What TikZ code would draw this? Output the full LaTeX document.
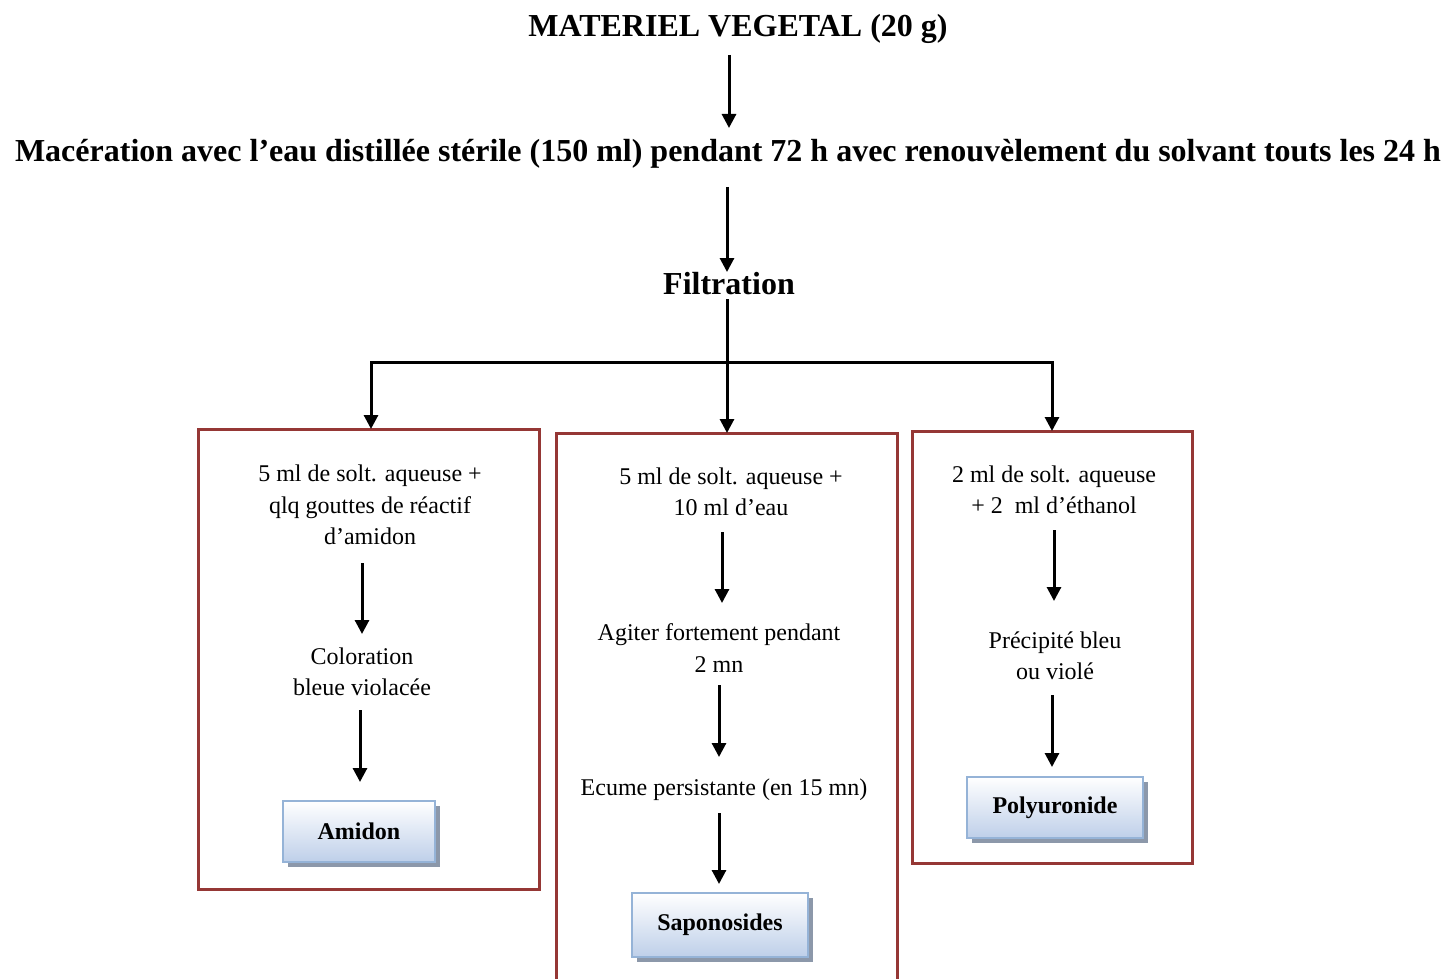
\documentclass[tikz,border=0pt]{standalone}
\usepackage{fontspec}
\setmainfont{Liberation Serif}
\usetikzlibrary{arrows.meta,shadows}
\definecolor{boxred}{RGB}{149,55,53}
\definecolor{resborder}{RGB}{149,179,215}
\definecolor{resbottom}{RGB}{190,207,233}
\definecolor{resshadow}{RGB}{140,152,170}
\begin{document}
\begin{tikzpicture}[x=0.5pt,y=-0.5pt,
 head/.style={font=\fontsize{16}{19}\selectfont\bfseries, inner sep=0},
 body/.style={font=\fontsize{12}{15.75}\selectfont, align=center, inner sep=0},
 arr/.style={line width=1.5pt, -{Triangle[width=7pt,length=7pt]}},
 link/.style={line width=1.5pt},
 redbox/.style={draw=boxred, line width=1.5pt, outer sep=0, inner sep=0},
 result/.style={draw=resborder, line width=1pt, top color=white, bottom color=resbottom,
   general shadow={fill=resshadow, shadow xshift=2.5pt, shadow yshift=-2.5pt},
   font=\fontsize{12}{14}\selectfont\bfseries, inner sep=0, outer sep=0}]
\useasboundingbox (0,0) rectangle (1447,979);

% headings
\node[head] (title) at (738,29) {MATERIEL VEGETAL (20 g)};
\node[head] (mac) at (728,154) {Macération avec l’eau distillée stérile (150 ml) pendant 72 h avec renouvèlement du solvant touts les 24 h};
\node[head] (filt) at (729,284) {Filtration};

% containers
\node[redbox, minimum width=170.5pt, minimum height=230pt] (b1) at (368.5,659) {};
\node[redbox, minimum width=140pt, minimum height=216pt] (b3) at (1052,647) {};
\node[inner sep=0, outer sep=0, minimum width=170.5pt, minimum height=276pt] (b2) at (726.5,709) {};
\draw[boxred, line width=1.5pt] (b2.south west) -- (b2.north west) -- (b2.north east) -- (b2.south east);

% box 1
\node[body] (t1) at (370,505) {5 ml de solt. aqueuse +\\ qlq gouttes de réactif\\ d’amidon};
\node[body] (t2) at (362,672) {Coloration\\ bleue violacée};
\node[result, minimum width=76pt, minimum height=30.5pt] (r1) at (359,831.5) {Amidon};

% box 2
\node[body] (t3) at (731,492) {5 ml de solt. aqueuse +\\ 10 ml d’eau};
\node[body] (t4) at (719,648) {Agiter fortement pendant\\ 2 mn};
\node[body] (t5) at (724,790) {Ecume persistante (en 15 mn)};
\node[result, minimum width=88pt, minimum height=32pt] (r2) at (720,925) {Saponosides};

% box 3
\node[body] (t6) at (1054,490) {2 ml de solt. aqueuse\\ + 2\ \ ml d’éthanol};
\node[body] (t7) at (1055,656) {Précipité bleu\\ ou violé};
\node[result, minimum width=88pt, minimum height=30.5pt] (r3) at (1055,807.5) {Polyuronide};

% top connectors
\draw[arr] ([shift={(-9,26)}]title.center) -- ([shift={(1,-26)}]mac.center);
\draw[arr] ([shift={(-1,33)}]mac.center) -- ([shift={(-2,-12)}]filt.center);
\coordinate (split) at (727,362.5);
\draw[link] ([shift={(-2,15)}]filt.center) -- (split);
\draw[arr] (split) -- (split |- b2.north);
\draw[arr] (split) -| ([xshift=1.25pt]b1.north);
\draw[arr] (split) -| (b3.north);

% inner connectors
\draw[arr] ([shift={(-8,58)}]t1.center) -- ([shift={(0,-38)}]t2.center);
\draw[arr] ([shift={(-2,38)}]t2.center) -- ([shift={(1,-49.5)}]r1.center);
\draw[arr] ([shift={(-9,40)}]t3.center) -- ([shift={(3,-45)}]t4.center);
\draw[arr] ([shift={(0,37)}]t4.center) -- ([shift={(-5,-33)}]t5.center);
\draw[arr] ([shift={(-5,23)}]t5.center) -- ([shift={(-1,-41)}]r2.center);
\draw[arr] ([shift={(0,40)}]t6.center) -- ([shift={(-1,-55)}]t7.center);
\draw[arr] ([shift={(-3,39)}]t7.center) -- ([shift={(-3,-40.5)}]r3.center);
\end{tikzpicture}
\end{document}
